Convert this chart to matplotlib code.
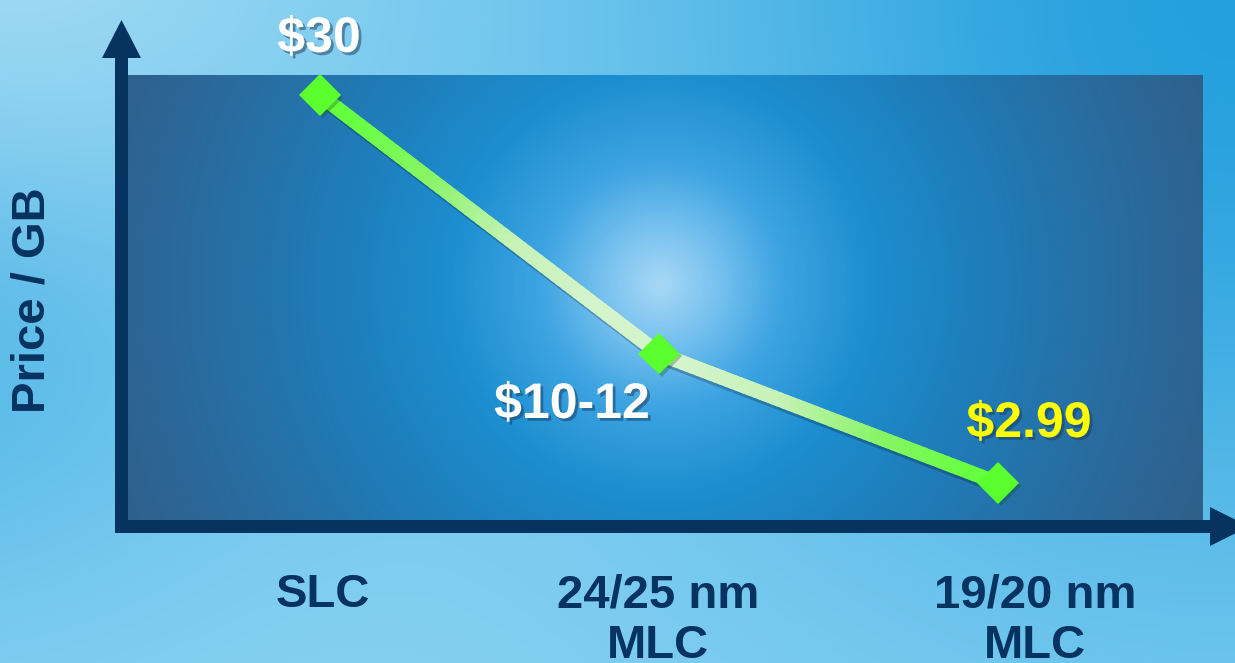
import numpy as np
import matplotlib.pyplot as plt
from matplotlib.colors import LinearSegmentedColormap, to_rgb
from matplotlib.collections import LineCollection
from matplotlib.patches import Polygon
import matplotlib.patheffects as pe

plt.rcParams['font.family'] = ['Liberation Sans', 'DejaVu Sans']

# data
categories = ["SLC", "24/25 nm\nMLC", "19/20 nm\nMLC"]
prices = [30, 12, 2.99]
price_labels = ["$30", "$10-12", "$2.99"]
label_colors = ["white", "white", "#ffff00"]

W, H = 1235, 663
navy = "#06335f"
fig = plt.figure(figsize=(W / 100, H / 100), dpi=100)

# figure background gradient
bg = fig.add_axes([0, 0, 1, 1])
yy, xx = np.mgrid[0:H, 0:W]
light = np.array(to_rgb("#88d2f2"))
sat = np.array(to_rgb("#25a0de"))
w1 = np.exp(-((xx - W) ** 2 + yy ** 2) / (2 * 420.0 ** 2))
w2 = 0.55 * np.exp(-((xx + 100) ** 2 / (2 * 250.0 ** 2) + (yy - 320) ** 2 / (2 * 200.0 ** 2)))
w = np.clip(w1 + w2, 0, 1)[..., None]
img = light * (1 - w) + sat * w
tl = 0.25 * np.exp(-(xx ** 2 + yy ** 2) / (2 * 200.0 ** 2))[..., None]
img = img * (1 - tl) + tl
bg.imshow(img, extent=[0, W, H, 0], aspect="auto", interpolation="bilinear")
bg.set_xlim(0, W)
bg.set_ylim(H, 0)
bg.axis("off")

# plot area
x0, x1, y0, y1 = 128, 1203, 75, 520
ax = fig.add_axes([x0 / W, 1 - y1 / H, (x1 - x0) / W, (y1 - y0) / H])
xs = np.arange(len(prices))
ax.set_xlim(-0.566, 2.605)
ax.set_ylim(0.414, 31.39)
ax.axis("off")

cx, cy = 660, 310
gy, gx = np.mgrid[y0:y1, x0:x1]
d = np.sqrt((gx - cx) ** 2 + (gy - cy) ** 2) / 600.0
area_cmap = LinearSegmentedColormap.from_list("area", [
    (0.0, "#a8d8f6"), (0.1, "#74c0ee"), (0.2, "#3ea4e2"), (0.35, "#1c8ed0"),
    (0.55, "#1f7cb8"), (0.8, "#2a6a9c"), (1.0, "#305e88")])
ax.imshow(area_cmap(np.clip(d, 0, 1)), extent=[*ax.get_xlim(), ax.get_ylim()[1], ax.get_ylim()[0]],
          aspect="auto", interpolation="bilinear", zorder=0)

# line shadow, then gradient line coloured by distance from the glow centre
ax.plot(xs, prices, linewidth=10.5, color="k", solid_capstyle="butt", zorder=1,
        path_effects=[pe.SimpleLineShadow(offset=(2, -3), alpha=0.22)], alpha=0)
segs, dist = [], []
for i in range(len(prices) - 1):
    t = np.linspace(0, 1, 60)
    px = xs[i] + (xs[i + 1] - xs[i]) * t
    py = prices[i] + (prices[i + 1] - prices[i]) * t
    pts = np.column_stack([px, py])
    segs += [pts[j:j + 2] for j in range(len(pts) - 1)]
    disp = ax.transData.transform(pts)
    disp[:, 1] = H - disp[:, 1]
    dd = np.hypot(disp[:, 0] - cx, disp[:, 1] - cy)
    dist += list((dd[:-1] + dd[1:]) / 2)
line_cmap = LinearSegmentedColormap.from_list("ln", ["#d4f4cc", "#c4f2b4", "#88f466", "#66ff40"])
dist = np.clip((np.array(dist) - 60) / 300.0, 0, 1)
lc = LineCollection(segs, colors=line_cmap(dist), linewidths=10.5, capstyle="round", zorder=2)
ax.add_collection(lc)
ax.plot(xs, prices, linestyle="none", marker="D", markersize=21, color="#5cff2e",
        markeredgewidth=0, zorder=3,
        path_effects=[pe.SimplePatchShadow(offset=(2, -2), alpha=0.3), pe.Normal()])

# axis arrows (pixel space overlay)
ov = fig.add_axes([0, 0, 1, 1])
ov.set_xlim(0, W)
ov.set_ylim(H, 0)
ov.axis("off")
ov.add_patch(Polygon([[115, 533], [115, 58], [102, 58], [121.5, 20], [141, 58], [128, 58], [128, 533]],
                     closed=True, color=navy, lw=0))
ov.add_patch(Polygon([[115, 520], [1210, 520], [1210, 507], [1249, 526.5], [1210, 546], [1210, 533], [115, 533]],
                     closed=True, color=navy, lw=0))

shadow = [pe.withSimplePatchShadow(offset=(2, -2), shadow_rgbFace="#1a3a5a", alpha=0.5)]
label_pos = [(319, 39), (572, 405), (1029, 424)]
for (px, py), s, c in zip(label_pos, price_labels, label_colors):
    ov.text(px, py, s, color=c, fontsize=36, fontweight="bold", ha="center", va="center",
            path_effects=shadow)

cat_x = [323, 658, 1035]
for px, s in zip(cat_x, categories):
    ov.text(px, 573, s, color=navy, fontsize=34, fontweight="bold", ha="center", va="top",
            linespacing=1.2)

ov.text(33, 300, "Price / GB", color=navy, fontsize=34, fontweight="bold", rotation=90,
        ha="center", va="center")

fig.savefig("out.png", dpi=100)
